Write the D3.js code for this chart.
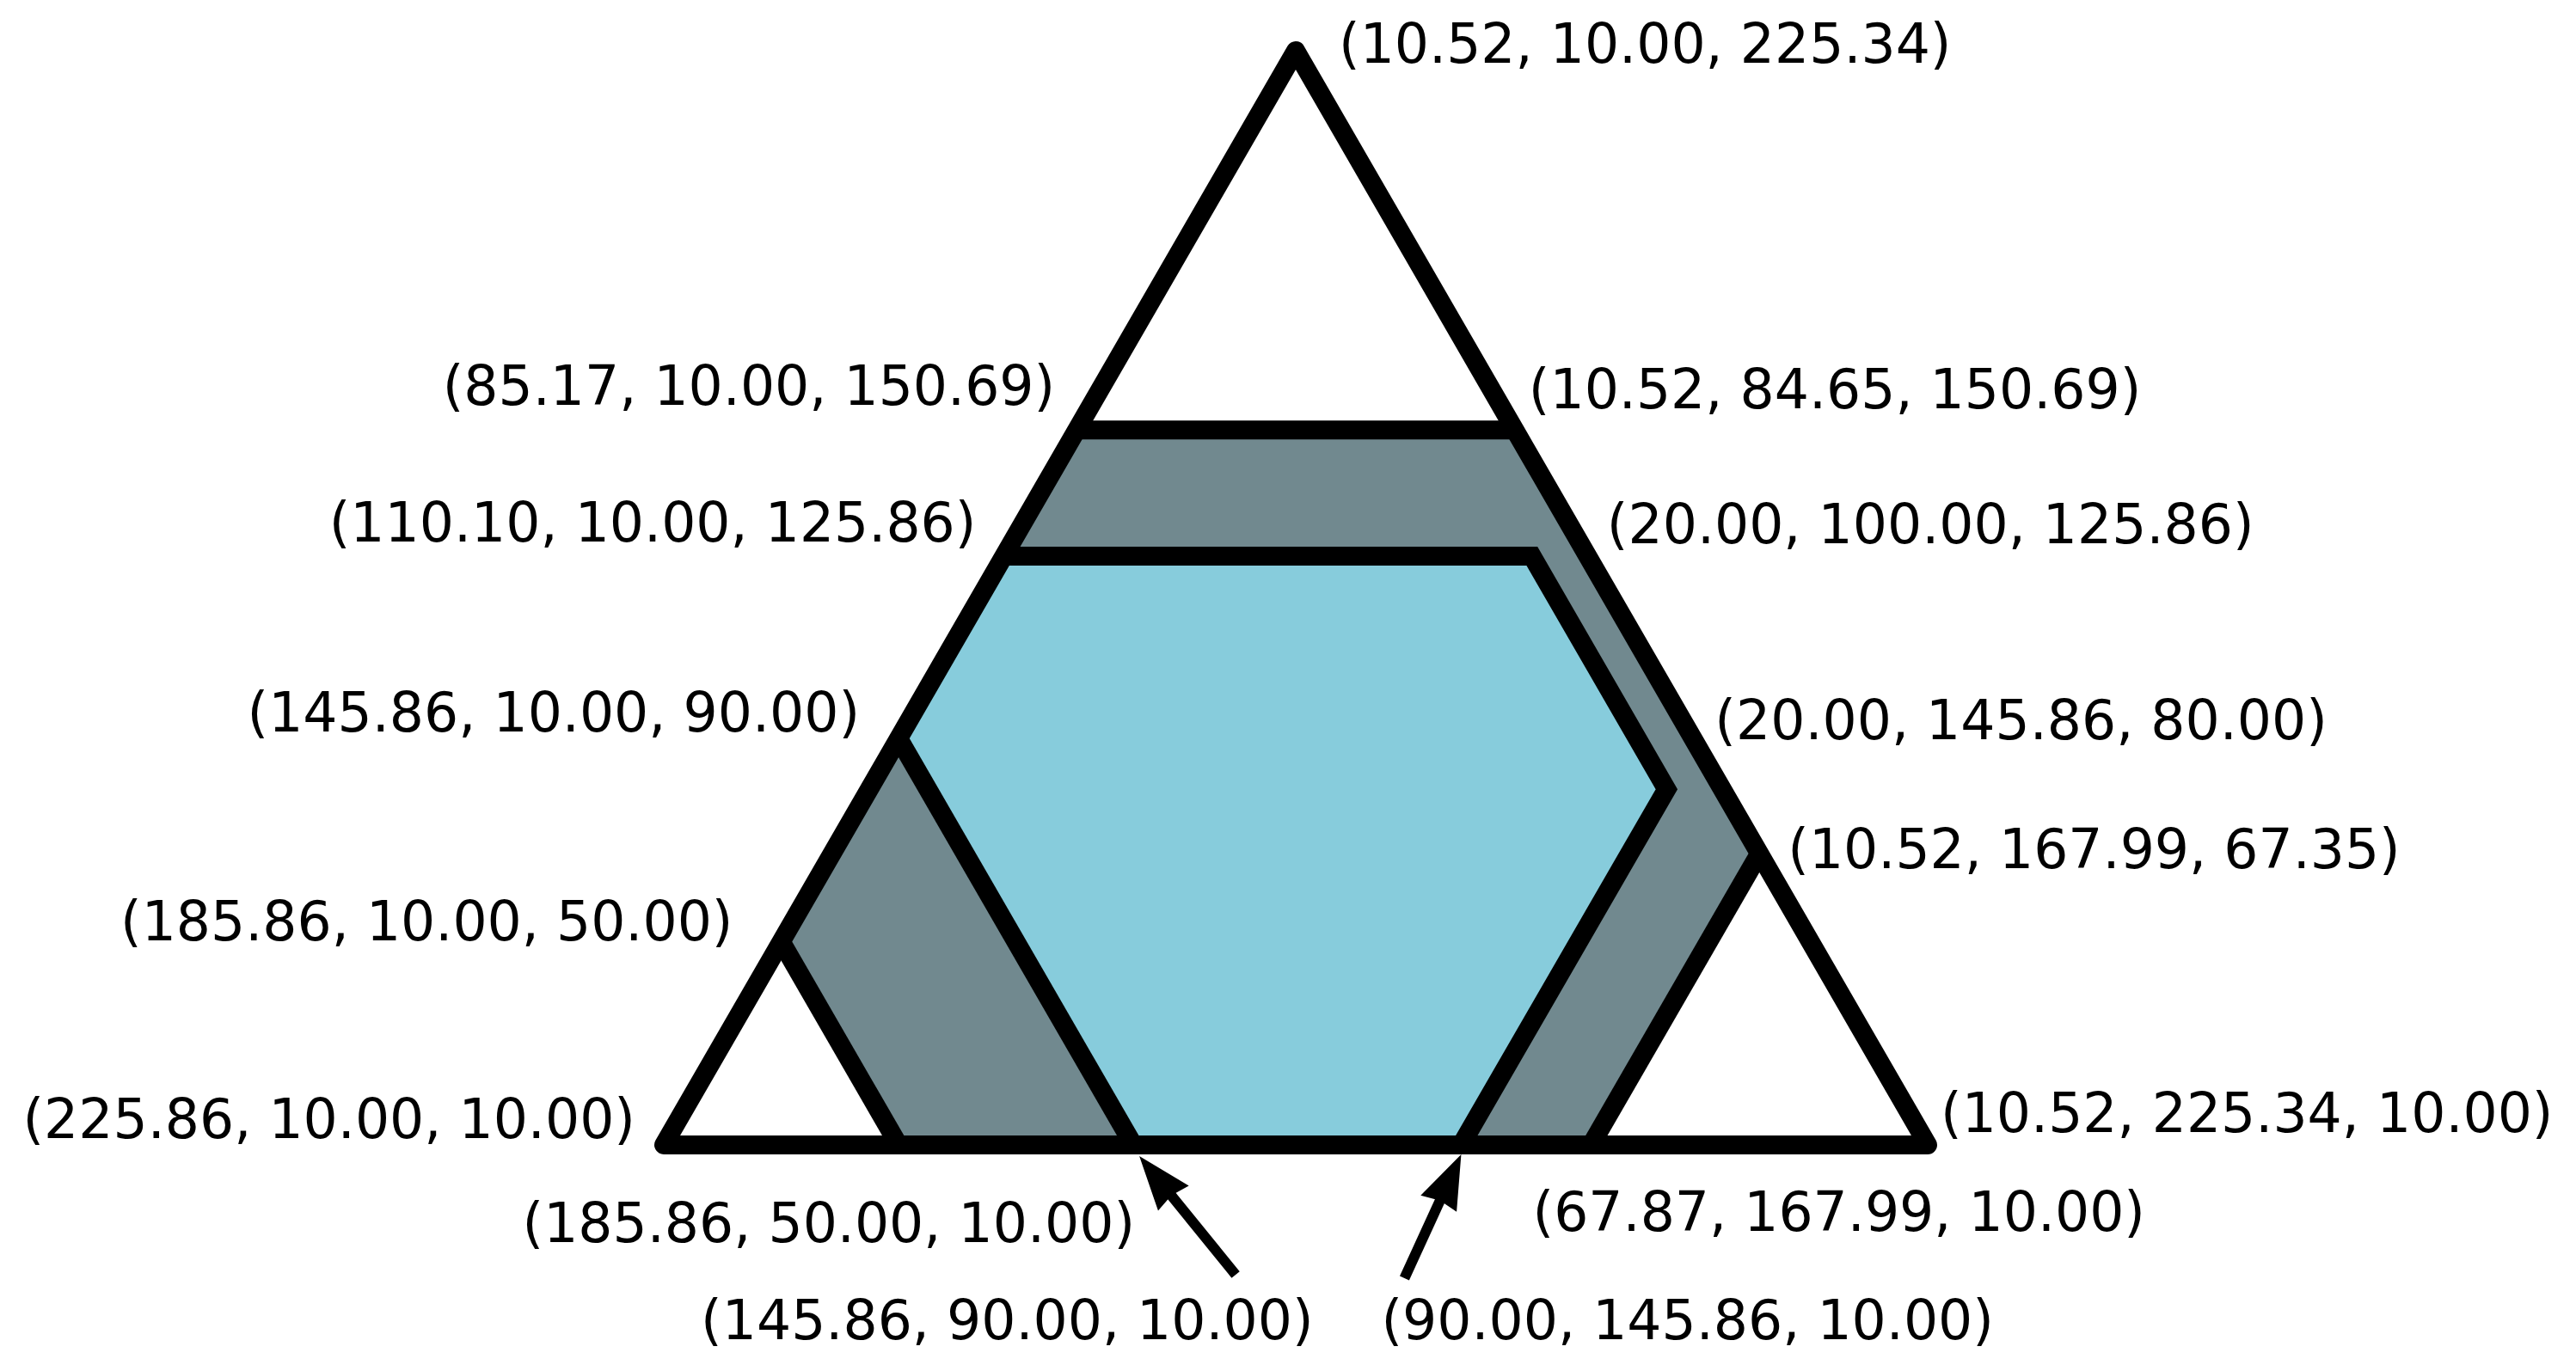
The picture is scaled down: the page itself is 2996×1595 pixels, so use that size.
<!DOCTYPE html>
<html>
<head>
<meta charset="utf-8">
<script src="https://cdn.jsdelivr.net/npm/d3@7"></script>
<style>
  html, body { margin: 0; padding: 0; background: #fff; }
  svg { display: block; }
  text { font-family: "DejaVu Sans", Verdana, sans-serif; }
</style>
</head>
<body>
<svg id="chart" width="2996" height="1595"></svg>
<script>
// ---------------- DATA (ternary coordinates: a, b, c) ----------------
const TOTAL = 245.86;
const MINS = [10.52, 10.00, 10.00];

// outer simplex corners: bottom-left, bottom-right, top
const triangleVertices = [
  [225.86, 10.00, 10.00],
  [10.52, 225.34, 10.00],
  [10.52, 10.00, 225.34]
];

// grey band region (outer feasible region)
const bandVertices = [
  [85.17, 10.00, 150.69],
  [10.52, 84.65, 150.69],
  [10.52, 167.99, 67.35],
  [67.87, 167.99, 10.00],
  [185.86, 50.00, 10.00],
  [185.86, 10.00, 50.00]
];

// light-blue hexagon region (inner region)
const hexVertices = [
  [110.10, 10.00, 125.86],
  [20.00, 100.00, 125.86],
  [20.00, 145.86, 80.00],
  [90.00, 145.86, 10.00],
  [145.86, 90.00, 10.00],
  [145.86, 10.00, 90.00]
];

// boundary lines drawn in black (index pairs / chains into the arrays above)
const bandLines = [[0, 1], [2, 3], [4, 5]];
const hexLines = [[0, 1, 2, 3], [4, 5]];

// labelled points (order matches labelLayout below)
const labelPoints = [
  [10.52, 10.00, 225.34],
  [85.17, 10.00, 150.69],
  [10.52, 84.65, 150.69],
  [110.10, 10.00, 125.86],
  [20.00, 100.00, 125.86],
  [145.86, 10.00, 90.00],
  [20.00, 145.86, 80.00],
  [10.52, 167.99, 67.35],
  [185.86, 10.00, 50.00],
  [225.86, 10.00, 10.00],
  [10.52, 225.34, 10.00],
  [185.86, 50.00, 10.00],
  [145.86, 90.00, 10.00],
  [90.00, 145.86, 10.00],
  [67.87, 167.99, 10.00]
];

// points pointed at by arrows
const arrowTargets = [
  [145.86, 90.00, 10.00],
  [90.00, 145.86, 10.00]
];

// ---------------- LAYOUT ----------------
const STROKE = 22;
const colors = { band: "#71898f", hex: "#87ccdc", line: "#000" };
// label offsets [dx, dy, anchor] from the labelled point, in pixels
const labelLayout = [
  [50, 14, "start"],
  [-25, -29, "end"],
  [16, -25, "start"],
  [-32, -17, "end"],
  [87, -15, "start"],
  [-45, -8, "end"],
  [56, -58, "start"],
  [33, 17, "start"],
  [-56, -2, "end"],
  [-33, -8, "end"],
  [15, -15, "start"],
  [275, 113, "end"],
  [-503, 226, "start"],
  [-93, 226, "start"],
  [-68, 100, "start"]
];
// arrow layout: tip offset and tail offset from the target point
const arrowLayout = [
  { tip: [7, 13], tail: [119, 151] },
  { tip: [0, 11], tail: [-66, 155] }
];

// ---------------- SCALES ----------------
const span = TOTAL - d3.sum(MINS);
const xScale = d3.scaleLinear().domain([0, 1]).range([772, 2242]);
const yScale = d3.scaleLinear().domain([0, 1]).range([1332, 59]);

function project(p) {
  const b = (p[1] - MINS[1]) / span;
  const c = (p[2] - MINS[2]) / span;
  return [xScale(b + c / 2), yScale(c)];
}

const svg = d3.select("#chart");
const lineGen = d3.line();

// fills
svg.append("path")
  .attr("d", lineGen(bandVertices.map(project)) + "Z")
  .attr("fill", colors.band);
svg.append("path")
  .attr("d", lineGen(hexVertices.map(project)) + "Z")
  .attr("fill", colors.hex);

// band boundary lines
svg.append("g").selectAll("path")
  .data(bandLines)
  .join("path")
  .attr("d", d => lineGen(d.map(i => project(bandVertices[i]))))
  .attr("fill", "none")
  .attr("stroke", colors.line)
  .attr("stroke-width", STROKE)
  .attr("stroke-linejoin", "miter");

// hexagon boundary lines
svg.append("g").selectAll("path")
  .data(hexLines)
  .join("path")
  .attr("d", d => lineGen(d.map(i => project(hexVertices[i]))))
  .attr("fill", "none")
  .attr("stroke", colors.line)
  .attr("stroke-width", STROKE)
  .attr("stroke-linejoin", "miter");

// outer triangle
svg.append("path")
  .attr("d", lineGen(triangleVertices.map(project)) + "Z")
  .attr("fill", "none")
  .attr("stroke", colors.line)
  .attr("stroke-width", STROKE)
  .attr("stroke-linejoin", "round");

// arrows
const HEAD_LEN = 63, HEAD_HALF = 23, NOTCH = 4, SHAFT = 12;
arrowTargets.forEach((t, i) => {
  const p = project(t);
  const L = arrowLayout[i];
  const tip = [p[0] + L.tip[0], p[1] + L.tip[1]];
  const tail = [p[0] + L.tail[0], p[1] + L.tail[1]];
  const dx = tip[0] - tail[0], dy = tip[1] - tail[1];
  const len = Math.hypot(dx, dy);
  const ux = dx / len, uy = dy / len;
  const px = -uy, py = ux;
  const base = [tip[0] - ux * HEAD_LEN, tip[1] - uy * HEAD_LEN];
  const notch = [tip[0] - ux * (HEAD_LEN - NOTCH), tip[1] - uy * (HEAD_LEN - NOTCH)];
  svg.append("line")
    .attr("x1", tail[0]).attr("y1", tail[1])
    .attr("x2", notch[0] + ux * 2).attr("y2", notch[1] + uy * 2)
    .attr("stroke", colors.line)
    .attr("stroke-width", SHAFT);
  svg.append("path")
    .attr("d", lineGen([
      tip,
      [base[0] + px * HEAD_HALF, base[1] + py * HEAD_HALF],
      notch,
      [base[0] - px * HEAD_HALF, base[1] - py * HEAD_HALF]
    ]) + "Z")
    .attr("fill", colors.line);
});

// labels
const fmt = d3.format(".2f");
svg.append("g").selectAll("text")
  .data(labelPoints)
  .join("text")
  .attr("x", (d, i) => project(d)[0] + labelLayout[i][0])
  .attr("y", (d, i) => project(d)[1] + labelLayout[i][1])
  .attr("text-anchor", (d, i) => labelLayout[i][2])
  .attr("font-size", 63.2)
  .attr("fill", "#000")
  .text(d => `(${fmt(d[0])}, ${fmt(d[1])}, ${fmt(d[2])})`);
</script>
</body>
</html>
